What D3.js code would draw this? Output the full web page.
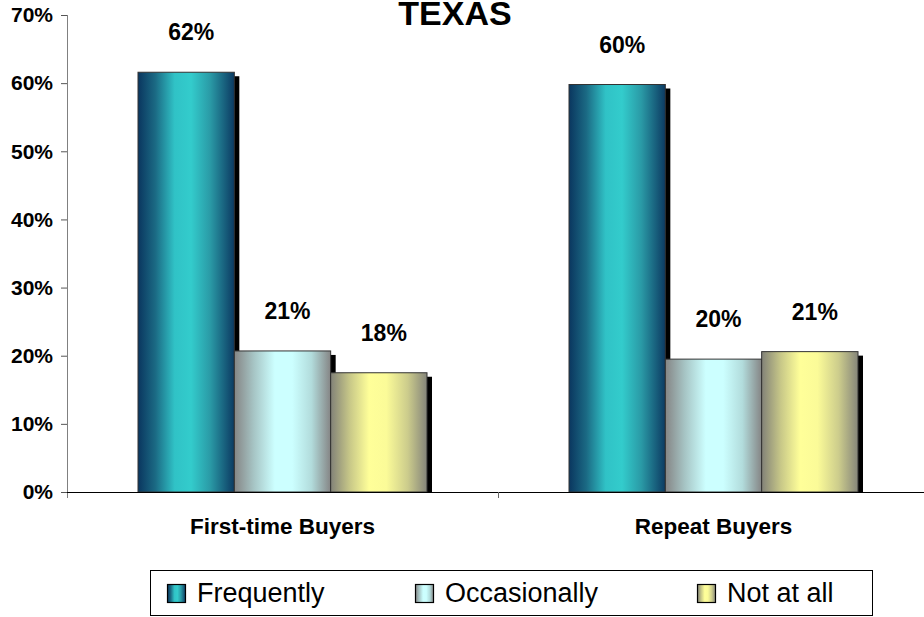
<!DOCTYPE html>
<html>
<head>
<meta charset="utf-8">
<script src="https://cdn.jsdelivr.net/npm/d3@7"></script>
<style>
  html, body { margin: 0; padding: 0; background: #fff; }
  svg { display: block; font-family: Arial, "Liberation Sans", sans-serif; }
</style>
</head>
<body>
<svg id="chart" width="924" height="617"></svg>
<script>
// Survey shares by buyer type, Texas
const categories = ["First-time Buyers", "Repeat Buyers"];
const seriesNames = ["Frequently", "Occasionally", "Not at all"];
const frequently = [0.616, 0.598];
const occasionally = [0.207, 0.195];
const notAtAll = [0.175, 0.206];
const yTicks = [0, 0.1, 0.2, 0.3, 0.4, 0.5, 0.6, 0.7];
const titleText = "TEXAS";

const seriesValues = [frequently, occasionally, notAtAll];

const svg = d3.select("#chart");
const plot = { left: 67, right: 929, top: 15, bottom: 492 };

// gradient stops for each series: dark edges, bright middle
const gradients = [
  { id: "g-freq", stops: [["0%", "#0a365f"], ["18%", "#1b6a84"], ["38%", "#30c2c6"], ["55%", "#33cccc"], ["75%", "#2a9aa6"], ["100%", "#0c3a62"]] },
  { id: "g-occ",  stops: [["0%", "#858585"], ["20%", "#a6c4c4"], ["42%", "#ccffff"], ["60%", "#ccffff"], ["80%", "#b2dcdc"], ["100%", "#858585"]] },
  { id: "g-not",  stops: [["0%", "#828278"], ["20%", "#c8c888"], ["40%", "#ffff99"], ["58%", "#fbfb98"], ["80%", "#cccc8c"], ["100%", "#85857a"]] }
];
const defs = svg.append("defs");
gradients.forEach(g => {
  const lg = defs.append("linearGradient").attr("id", g.id)
    .attr("x1", "0%").attr("x2", "100%").attr("y1", "0%").attr("y2", "0%");
  g.stops.forEach(s => lg.append("stop").attr("offset", s[0]).attr("stop-color", s[1]));
});

const x0 = d3.scaleBand().domain(categories).range([plot.left, plot.right]).paddingInner(0).paddingOuter(0);
const x1 = d3.scaleBand().domain(seriesNames).range([71, x0.bandwidth() - 71]).padding(0);
const y = d3.scaleLinear().domain([0, 0.7]).range([plot.bottom, plot.top]);

// bars data
const bars = [];
categories.forEach((c, ci) => {
  seriesNames.forEach((s, si) => {
    bars.push({ cat: c, series: s, si, value: seriesValues[si][ci] });
  });
});

const gBars = svg.append("g");
// drop shadows first, so neighbouring bars cover them
gBars.selectAll("rect.shadow").data(bars).join("rect")
  .attr("class", "shadow")
  .attr("x", d => x0(d.cat) + x1(d.series) + 5)
  .attr("y", d => y(d.value) + 4)
  .attr("width", x1.bandwidth())
  .attr("height", d => plot.bottom - y(d.value) - 4)
  .attr("fill", "#000");

gBars.selectAll("rect.bar").data(bars).join("rect")
  .attr("class", "bar")
  .attr("x", d => x0(d.cat) + x1(d.series))
  .attr("y", d => y(d.value))
  .attr("width", x1.bandwidth())
  .attr("height", d => plot.bottom - y(d.value))
  .attr("fill", d => `url(#${gradients[d.si].id})`)
  .attr("stroke", "#333")
  .attr("stroke-width", 1);

// value labels
const fmt = d3.format(".0%");
svg.append("g").selectAll("text").data(bars).join("text")
  .attr("x", d => x0(d.cat) + x1(d.series) + x1.bandwidth() / 2 + 5)
  .attr("y", d => y(d.value) - 32)
  .attr("text-anchor", "middle")
  .attr("font-size", 23)
  .attr("font-weight", "bold")
  .attr("fill", "#000")
  .text(d => fmt(d.value));

// y axis
const yAxis = d3.axisLeft(y).tickValues(yTicks).tickFormat(fmt).tickSizeInner(6).tickSizeOuter(0).tickPadding(8);
const gy = svg.append("g").attr("transform", `translate(${plot.left},0)`).call(yAxis);
gy.select(".domain").attr("stroke", "#808080").attr("d", `M0.5,${plot.top}V${plot.bottom + 6}`);
gy.selectAll(".tick line").attr("stroke", "#555");
gy.selectAll(".tick text").attr("font-size", 21).attr("font-weight", "bold").attr("fill", "#000")
  .attr("font-family", "Arial, 'Liberation Sans', sans-serif");

// x axis: boundary ticks between categories
const gx = svg.append("g").attr("transform", `translate(0,${plot.bottom})`);
gx.append("line").attr("x1", plot.left).attr("x2", plot.right).attr("y1", 0.5).attr("y2", 0.5)
  .attr("stroke", "#000").attr("stroke-width", 1);
gx.selectAll("line.bt").data(categories.slice(1)).join("line")
  .attr("class", "bt")
  .attr("x1", d => x0(d) + 0.5).attr("x2", d => x0(d) + 0.5)
  .attr("y1", 0).attr("y2", 6).attr("stroke", "#666");
gx.selectAll("text").data(categories).join("text")
  .attr("x", d => x0(d) + x0.bandwidth() / 2)
  .attr("y", 42)
  .attr("text-anchor", "middle")
  .attr("font-size", 22.5)
  .attr("font-weight", "bold")
  .text(d => d);

// title
svg.append("text").attr("x", 455).attr("y", 25).attr("text-anchor", "middle")
  .attr("font-size", 34).attr("font-weight", "bold").text(titleText);

// legend
const legend = svg.append("g");
legend.append("rect").attr("x", 150.5).attr("y", 570.5).attr("width", 722).attr("height", 45)
  .attr("fill", "#fff").attr("stroke", "#000");
const legendX = [167, 415, 697];
const items = legend.selectAll("g.item").data(seriesNames).join("g").attr("class", "item")
  .attr("transform", (d, i) => `translate(${legendX[i]},584)`);
items.append("rect").attr("x", 0.5).attr("y", 0.5).attr("width", 18).attr("height", 18)
  .attr("fill", (d, i) => `url(#${gradients[i].id})`).attr("stroke", "#000").attr("stroke-width", 1.2);
items.append("text").attr("x", 30).attr("y", 18).attr("font-size", 27).text(d => d);
</script>
</body>
</html>
